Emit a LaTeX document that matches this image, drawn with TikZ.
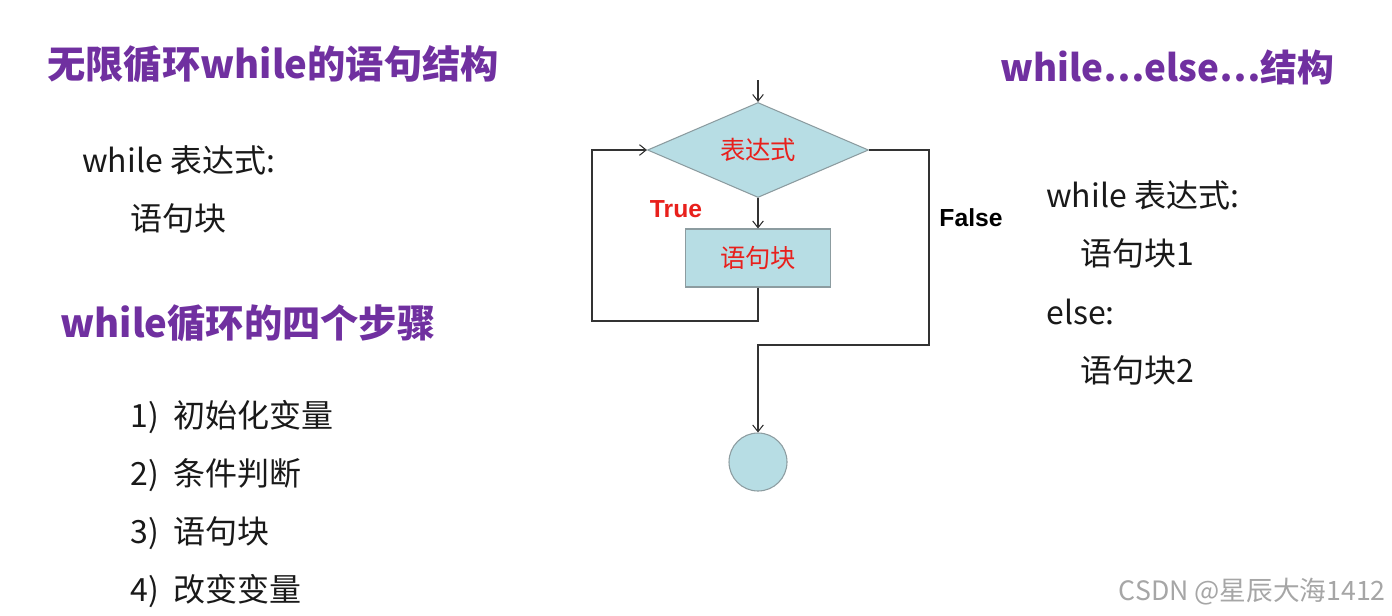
\documentclass[tikz,border=0pt]{standalone}
\usepackage{fontspec}
\setmainfont{Noto Sans CJK SC}
\newfontfamily\arial{Liberation Sans}
\usetikzlibrary{shapes.geometric,arrows.meta}
\definecolor{ttl}{HTML}{7030A0}
\definecolor{boxfill}{HTML}{B7DDE4}
\definecolor{boxline}{HTML}{8C9CA0}
\definecolor{lbl}{HTML}{E8201C}
\begin{document}
\begin{tikzpicture}[x=0.75pt,y=-0.75pt,
  title/.style={anchor=west,inner sep=0pt,text=ttl,font=\fontsize{28.7}{34}\selectfont\bfseries},
  body/.style={anchor=west,inner sep=0pt,text=black!90,font=\fontsize{24}{28}\selectfont},
  flow/.style={draw=boxline,fill=boxfill,line width=0.8pt},
  conn/.style={draw=black!80,line width=0.8pt},
  arr/.style={conn,-{Straight Barb[length=5pt,width=8pt]}}]
\useasboundingbox (0,0) rectangle (1392,615);
% titles
\node[title] (t1) at (47,64) {无限循环while的语句结构};
\node[title] (t2) at (60,323) {while循环的四个步骤};
\node[title,font=\fontsize{27.6}{34}\selectfont\bfseries] (t3) at (1000,67) {while…else…结构};
% left body
\node[body] (l1) at (82,160) {while 表达式:};
\node[body] (l2) at (130,218) {语句块};
\node[body] (s1) at (130,417) {1)\ \ 初始化变量};
\node[body] (s2) at (130,475) {2)\ \ 条件判断};
\node[body] (s3) at (130,533) {3)\ \ 语句块};
\node[body] (s4) at (130,591) {4)\ \ 改变变量};
% right body
\node[body] (r1) at (1046,195) {while 表达式:};
\node[body] (r2) at (1080,253) {语句块1};
\node[body] (r3) at (1046,312) {else:};
\node[body] (r4) at (1080,370) {语句块2};
% flowchart
\node[flow,diamond,minimum width=221*0.75pt,minimum height=95*0.75pt,inner sep=0pt,aspect=2.33,
  text=lbl,font=\fontsize{19}{22}\selectfont] (d) at (758,150) {表达式};
\node[flow,rectangle,minimum width=145*0.75pt,minimum height=58*0.75pt,inner sep=0pt,
  text=lbl,font=\fontsize{19}{22}\selectfont] (b) at (758,258) {语句块};
\node[flow,circle,minimum size=58*0.75pt,inner sep=0pt] (e) at (758,462) {};
\coordinate (in) at (758,80);
\coordinate (la) at (758,321);
\coordinate (lb) at (592,321);
\coordinate (lc) at (592,150);
\coordinate (ra) at (929,150);
\coordinate (rb) at (929,345);
\coordinate (rc) at (758,345);
\draw[arr] (in) -- (d.north);
\draw[arr] (d.south) -- (b.north);
\draw[arr] (b.south) -- (la) -- (lb) -- (lc) -- (d.west);
\draw[arr] (d.east) -- (ra) -- (rb) -- (rc) -- (e.north);
\node[text=lbl,font=\arial\fontsize{18.5}{22}\selectfont\bfseries] (tr) at (676,209) {True};
\node[text=black,font=\arial\fontsize{18.5}{22}\selectfont\bfseries] (fa) at (971,218) {False};
% watermark
\node[anchor=east,inner sep=0pt,text=black!35,font=\fontsize{20}{24}\selectfont] (wm) at (1386,592) {CSDN @星辰大海1412};
\end{tikzpicture}
\end{document}
